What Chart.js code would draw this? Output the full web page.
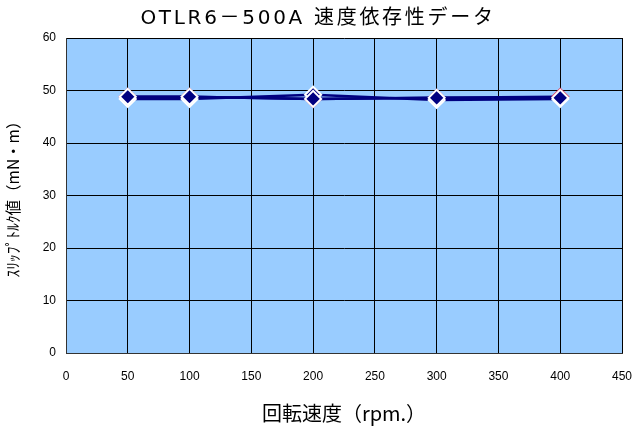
<!DOCTYPE html>
<html><head><meta charset="utf-8">
<script src="https://cdn.jsdelivr.net/npm/chart.js@4/dist/chart.umd.min.js"></script>
<style>html,body{margin:0;padding:0;background:#fff}#w{width:634px;height:429px}</style>
</head><body><div id="w"><canvas id="c" width="634" height="429"></canvas></div>
<script>
const speeds = [50, 100, 200, 300, 400];
const seriesA = [48.8, 48.8, 48.4, 48.6, 48.8];
const seriesB = [48.4, 48.4, 49.2, 48.2, 48.4];
const seriesC = [48.8, 48.8, 48.4, 48.6, 48.6];
const xTicks = [0, 50, 100, 150, 200, 250, 300, 350, 400, 450];
const yTicks = [0, 10, 20, 30, 40, 50, 60];
const titleText = 'OTLR6－500A 速度依存性データ';
const JP = "'Noto Sans CJK JP', sans-serif";
const WIDE = "'DejaVu Sans', 'Noto Sans CJK JP', sans-serif";
const TICK = "'Liberation Sans', Arial, sans-serif";

const bg = {
  id: 'bg',
  beforeDraw(ch) {
    const a = ch.chartArea, c = ch.ctx;
    c.save(); c.fillStyle = '#99CCFF'; c.fillRect(a.left, a.top, a.right - a.left, a.bottom - a.top); c.restore();
  },
  afterDraw(ch) {
    const c = ch.ctx;
    c.save();
    c.font = "normal 20px " + WIDE;
    c.letterSpacing = '2.7px';
    c.fillStyle = '#000';
    c.textAlign = 'center';
    c.textBaseline = 'middle';
    c.fillText(titleText, 318, 19);
    c.restore();
  }
};
function pts(v){ return speeds.map((x,i)=>({x, y:v[i]})); }
function ds(v, edge){
  return { data: pts(v), borderColor: '#000080', borderWidth: 2.5, pointStyle: 'rectRot',
    pointRadius: 8, pointHoverRadius: 8, pointBackgroundColor: '#000080', pointBorderColor: edge, pointBorderWidth: 2 };
}
new Chart(document.getElementById('c'), {
  type: 'line',
  data: { datasets: [ ds(seriesC, '#ffffff'), ds(seriesB, '#ffffff'), ds(seriesA, '#e04060') ] },
  options: {
    responsive: false, animation: false,
    layout: { autoPadding: false, padding: { left: 0, right: 12, top: 38, bottom: 0 } },
    plugins: {
      legend: { display: false }, tooltip: { enabled: false }, title: { display: false }
    },
    scales: {
      x: { type: 'linear', min: 0, max: 450,
        afterBuildTicks(ax){ ax.ticks = xTicks.map(v=>({value:v})); },
        afterFit(ax){ ax.height = 76; ax.paddingLeft = 0; ax.paddingRight = 0; },
        grid: { color: '#000', lineWidth: 1, drawTicks: false },
        border: { color: '#333', width: 1 },
        ticks: { color: '#000', font: { family: TICK, size: 12 }, padding: 16, maxRotation: 0 },
        title: { display: true, text: '回転速度（rpm.）', color: '#000', font: { family: JP, size: 20 }, padding: { top: 8 } }
      },
      y: { min: 0, max: 60,
        afterBuildTicks(ax){ ax.ticks = yTicks.map(v=>({value:v})); },
        afterFit(ax){ ax.width = 66; ax.paddingTop = 0; ax.paddingBottom = 0; },
        grid: { color: '#000', lineWidth: 1, drawTicks: false },
        border: { color: '#333', width: 1 },
        ticks: { color: '#000', font: { family: TICK, size: 12 }, padding: 10 },
        title: { display: true, text: 'ｽﾘｯﾌﾟﾄﾙｸ値（mN・m）', color: '#000', font: { family: JP, size: 15.5 }, padding: { bottom: 4 } }
      }
    }
  },
  plugins: [bg]
});
</script></body></html>
